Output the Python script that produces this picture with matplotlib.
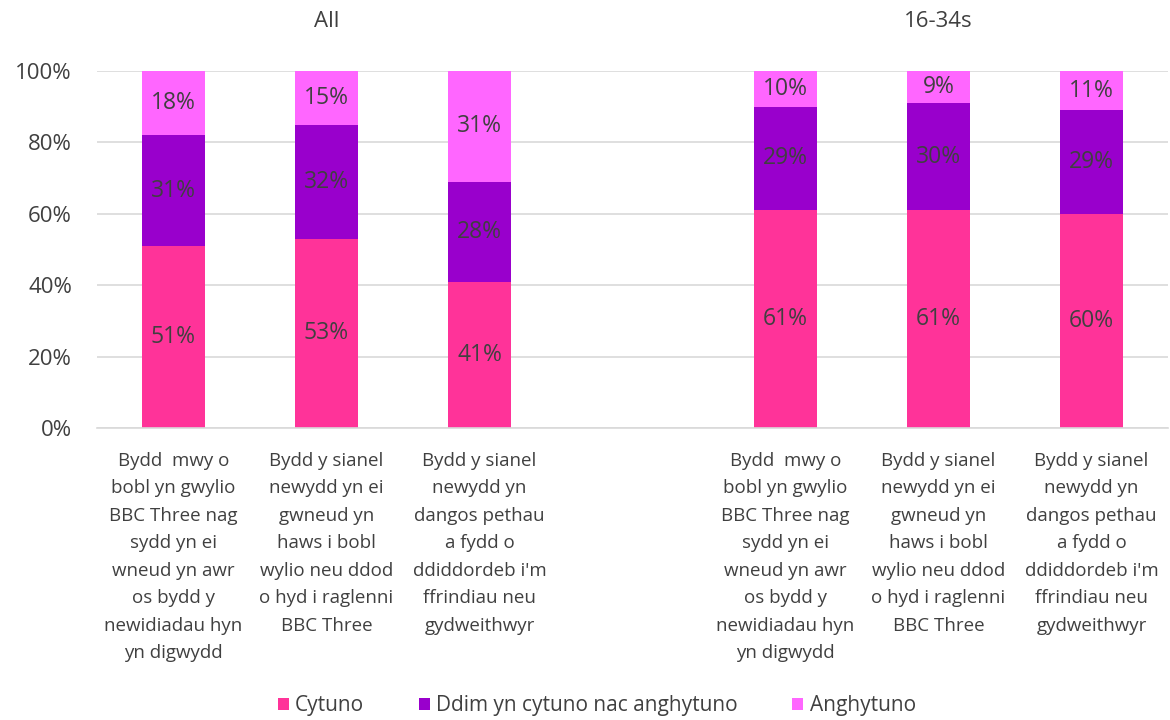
import matplotlib.pyplot as plt
import numpy as np

plt.rcParams['font.family'] = ['Open Sans', 'DejaVu Sans']

groups = ['All', '16-34s']
statements = [
    'Bydd  mwy o\nbobl yn gwylio\nBBC Three nag\nsydd yn ei\nwneud yn awr\nos bydd y\nnewidiadau hyn\nyn digwydd',
    'Bydd y sianel\nnewydd yn ei\ngwneud yn\nhaws i bobl\nwylio neu ddod\no hyd i raglenni\nBBC Three',
    'Bydd y sianel\nnewydd yn\ndangos pethau\na fydd o\nddiddordeb i\'m\nffrindiau neu\ngydweithwyr',
]
series = ['Cytuno', 'Ddim yn cytuno nac anghytuno', 'Anghytuno']
colors = ['#FF3399', '#9900CC', '#FF66FF']

# percentages, All then 16-34s
cytuno = [51, 53, 41, 61, 61, 60]
ddim = [31, 32, 28, 29, 30, 29]
anghytuno = [18, 15, 31, 10, 9, 11]
values = [cytuno, ddim, anghytuno]

# slot 3 left empty between the two groups
x = np.array([0, 1, 2, 4, 5, 6])

fig = plt.figure(figsize=(11.7, 7.2), dpi=100)
ax = fig.add_axes([97 / 1170, 1 - 428 / 720, 1071 / 1170, 357 / 720])

bottom = np.zeros(len(x))
for name, vals, c in zip(series, values, colors):
    vals = np.array(vals, dtype=float)
    ax.bar(x, vals, 0.41, bottom=bottom, color=c, label=name, zorder=2)
    for xi, b, v in zip(x, bottom, vals):
        ax.text(xi, b + v / 2, '%d%%' % v, ha='center', va='center',
                fontsize=16.5, color='#404040', zorder=3)
    bottom += vals

ax.set_xlim(-0.5, 6.5)
ax.set_ylim(0, 100)
ax.set_yticks(range(0, 101, 20))
ax.set_yticklabels(['%d%%' % t for t in range(0, 101, 20)], fontsize=16, color='#404040')
ax.yaxis.grid(True, color='#D9D9D9', linewidth=1.2, zorder=0)
ax.tick_params(axis='y', length=0, pad=18)
ax.set_xticks(x)
ax.set_xticklabels(statements * 2, fontsize=13.5, color='#404040', linespacing=1.68, va='top')
ax.tick_params(axis='x', length=0, pad=17)
for s in ['top', 'right', 'left']:
    ax.spines[s].set_visible(False)
ax.spines['bottom'].set_color('#D9D9D9')
ax.spines['bottom'].set_linewidth(1.2)

for gx, g in zip([1, 5], groups):
    ax.text(gx, 1.14, g, transform=ax.get_xaxis_transform(), ha='center', va='center',
            fontsize=16, color='#404040')

fig.legend(loc='center', bbox_to_anchor=(0.51, 1 - 706 / 720), ncol=3, frameon=False,
           fontsize=15, handlelength=0.55, handleheight=0.55, handletextpad=0.3,
           columnspacing=2.6, labelcolor='#404040')

fig.savefig('out.png', dpi=100)
